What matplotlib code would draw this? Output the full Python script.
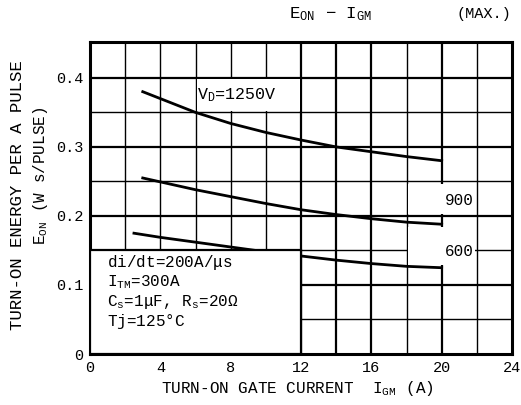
import matplotlib
matplotlib.use("Agg")
import matplotlib.pyplot as plt
from matplotlib.patches import Rectangle
import numpy as np

# Data
x_1250 = [3, 6, 8, 10, 12, 14, 16, 18, 20]
y_1250 = [0.380, 0.350, 0.334, 0.321, 0.310, 0.300, 0.293, 0.286, 0.280]
x_900 = [3, 6, 8, 10, 12, 14, 16, 18, 20]
y_900 = [0.255, 0.238, 0.228, 0.218, 0.209, 0.202, 0.196, 0.191, 0.188]
x_600 = [2.5, 4, 6, 8, 10, 12, 14, 16, 18, 20]
y_600 = [0.175, 0.169, 0.162, 0.155, 0.148, 0.142, 0.136, 0.131, 0.127, 0.125]

xticks = [0, 4, 8, 12, 16, 20, 24]
xticklabels = ["0", "4", "8", "12", "16", "20", "24"]
yticks = [0, 0.1, 0.2, 0.3, 0.4]
yticklabels = ["0", "0.1", "0.2", "0.3", "0.4"]
conditions = [r"di/dt=200A/$\mu$s", r"I$_\mathrm{TM}$=300A",
              r"C$_\mathrm{s}$=1$\mu$F, R$_\mathrm{s}$=20$\Omega$", r"Tj=125$\degree$C"]

font = "Liberation Mono"
plt.rcParams['font.family'] = [font, 'DejaVu Sans']
plt.rcParams['mathtext.fontset'] = 'custom'
plt.rcParams['mathtext.rm'] = font
plt.rcParams['mathtext.it'] = font

fig = plt.figure(figsize=(5.21, 4.05), dpi=100)
ax = fig.add_axes([90/521, 1-354/405, (512-90)/521, (354-42)/405])
ax.set_xlim(0, 24)
ax.set_ylim(0, 0.452)

# grid
for gx in np.arange(2, 24, 2):
    lw = 1.6 if gx in (12, 14, 16, 20) else 1.0
    ax.axvline(gx, color='black', lw=lw, zorder=1)
for gy in np.arange(0.05, 0.45, 0.05):
    lw = 1.6 if round(gy * 100) % 10 == 0 else 1.0
    ax.axhline(gy, color='black', lw=lw, zorder=1)

# white label areas covering the grid
ax.add_patch(Rectangle((6.08, 0.352), 5.84, 0.046, facecolor='white', edgecolor='none', zorder=2))
ax.add_patch(Rectangle((18.08, 0.203), 3.84, 0.044, facecolor='white', edgecolor='none', zorder=2))
ax.add_patch(Rectangle((18.08, 0.129), 3.84, 0.055, facecolor='white', edgecolor='none', zorder=2))

for xs, ys in [(x_1250, y_1250), (x_900, y_900), (x_600, y_600)]:
    ax.plot(xs, ys, color='black', lw=2.0, zorder=3)

for s in ax.spines.values():
    s.set_linewidth(2.2)

ax.set_xticks(xticks)
ax.set_xticklabels(xticklabels, fontsize=11)
ax.set_yticks(yticks)
ax.set_yticklabels(yticklabels, fontsize=11)
ax.tick_params(direction='in', length=0, pad=5)

ax.text(6.1, 0.375, r"V$_\mathrm{D}$=1250V", fontsize=12, ha='left', va='center', zorder=4)
ax.text(21.0, 0.222, "900", fontsize=11.5, ha='center', va='center', zorder=4)
ax.text(21.0, 0.148, "600", fontsize=11.5, ha='center', va='center', zorder=4)

# condition box
ax.add_patch(Rectangle((0, 0), 12.0, 0.151, facecolor='white', edgecolor='black', lw=1.6, zorder=4))
for i, t in enumerate(conditions):
    ax.text(0.95, 0.133 - i * 0.0285, t, fontsize=11.5, ha='left', va='center', zorder=5)

fig.text(331/521, 1-14/405, r"E$_\mathrm{ON}$ $-$ I$_\mathrm{GM}$", fontsize=12.5, ha='center', va='center')
fig.text(484/521, 1-14/405, "(MAX.)", fontsize=11, ha='center', va='center')

fig.text(297/521, 1-389/405, r"TURN-ON GATE CURRENT  I$_\mathrm{GM}$ (A)", fontsize=11.5, ha='center', va='center')
fig.text(18/521, 1-195/405, "TURN-ON ENERGY PER A PULSE", fontsize=12.5, rotation=90, ha='center', va='center')
fig.text(41/521, 1-176/405, r"E$_\mathrm{ON}$ (W s/PULSE)", fontsize=11.5, rotation=90, ha='center', va='center')

fig.savefig("out.png", dpi=100)
